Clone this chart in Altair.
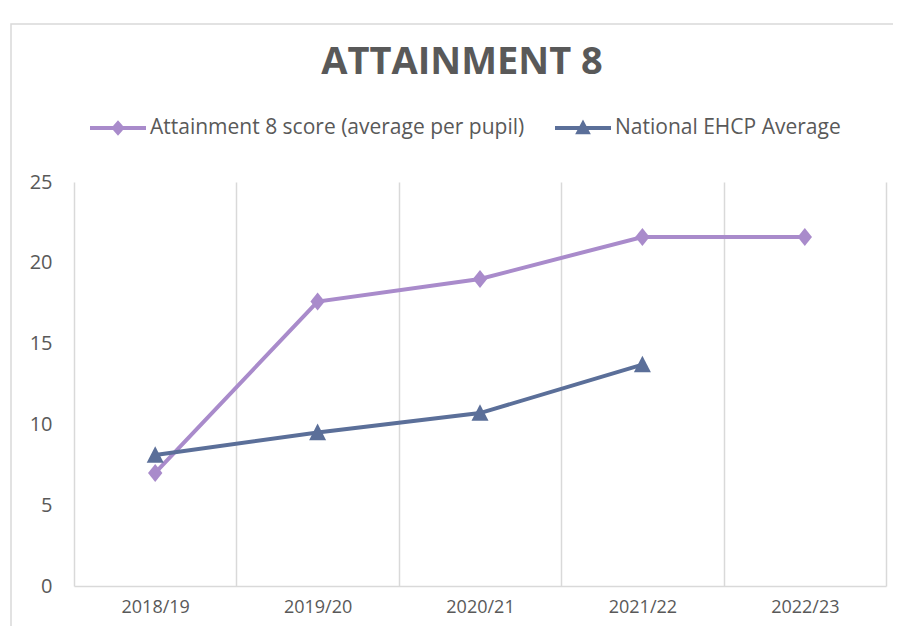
import altair as alt
import pandas as pd

cats = ["2018/19", "2019/20", "2020/21", "2021/22", "2022/23"]
att8 = [7.0, 17.6, 19.0, 21.6, 21.6]
ehcp = [8.1, 9.5, 10.7, 13.7, None]
series = ["Attainment 8 score (average per pupil)", "National EHCP Average"]
colors = ["#A98BCB", "#5B6F99"]

rows = []
for c, a, e in zip(cats, att8, ehcp):
    rows.append({"year": c, "series": series[0], "value": a})
    if e is not None:
        rows.append({"year": c, "series": series[1], "value": e})
df = pd.DataFrame(rows)

W, H = 812, 404
FONT = "Open Sans"
TXT = "#595959"
GRID = "#d9d9d9"

diamond = "M0,-1L0.8,0L0,1L-0.8,0Z"
triangle = "M0,-1.05L1,0.9L-1,0.9Z"
leg_diamond = "M-1,-0.07H1V0.07H-1Z M0,-0.28L0.24,0L0,0.28L-0.24,0Z"
leg_triangle = "M-1,-0.07H1V0.07H-1Z M0,-0.3L0.28,0.22L-0.28,0.22Z"

x_enc = alt.X(
    "year:N", sort=cats,
    scale=alt.Scale(type="band", paddingInner=0, paddingOuter=0),
    axis=alt.Axis(title=None, grid=True, tickBand="extent", gridColor=GRID, gridWidth=1.5,
                  ticks=False, domainColor=GRID, domainWidth=1.5, labelAngle=0,
                  labelFont=FONT, labelFontSize=18, labelColor=TXT, labelPadding=12),
)
y_enc = alt.Y(
    "value:Q", scale=alt.Scale(domain=[0, 25], nice=False),
    axis=alt.Axis(title=None, values=[0, 5, 10, 15, 20, 25], grid=False, domain=False,
                  ticks=False, tickSize=0, labelFont=FONT, labelFontSize=20,
                  labelColor=TXT, labelPadding=22),
)

base = alt.Chart(df)

frame = alt.Chart(pd.DataFrame({"a": [0]})).mark_rect(
    filled=False, stroke=GRID, strokeWidth=1.5, clip=False
).encode(x=alt.value(-63), x2=alt.value(1200), y=alt.value(-158), y2=alt.value(900))

layers = [frame]
shapes = [diamond, triangle]
sizes = [324, 289]
for s, col, shp, sz in zip(series, colors, shapes, sizes):
    sub = base.transform_filter(alt.datum.series == s)
    layers.append(sub.mark_line(color=col, strokeWidth=4).encode(x=x_enc, y=y_enc))
    layers.append(sub.mark_point(filled=True, opacity=1, color=col, shape=shp, size=sz)
                  .encode(x=x_enc, y=y_enc))

leg = alt.Legend(title=None, orient="none", direction="horizontal", legendX=16, legendY=-82,
                 symbolSize=3136, labelFont=FONT, labelFontSize=21, labelColor=TXT,
                 labelOffset=4, columnPadding=30, padding=0, symbolStrokeWidth=0,
                 labelLimit=1000)
legend_layer = base.transform_filter("datum.value < -1000").mark_point(
    filled=True, opacity=1
).encode(
    x=x_enc, y=y_enc,
    color=alt.Color("series:N", scale=alt.Scale(domain=series, range=colors), legend=leg),
    shape=alt.Shape("series:N", scale=alt.Scale(domain=series, range=[leg_diamond, leg_triangle]), legend=leg),
)
layers.append(legend_layer)

chart = alt.layer(*layers).resolve_scale(color="independent", shape="independent").properties(
    width=W, height=H,
    title=alt.Title("ATTAINMENT 8", fontSize=38, fontWeight="bold", color=TXT, font=FONT,
                    anchor="middle", dx=-18, offset=-59),
    autosize=alt.AutoSizeParams(type="none"),
    padding={"left": 66, "top": 174, "right": 7, "bottom": 40},
    background="white",
).configure_view(stroke=None)

chart.save("out.html", embed_options={"renderer": "svg", "actions": False})
